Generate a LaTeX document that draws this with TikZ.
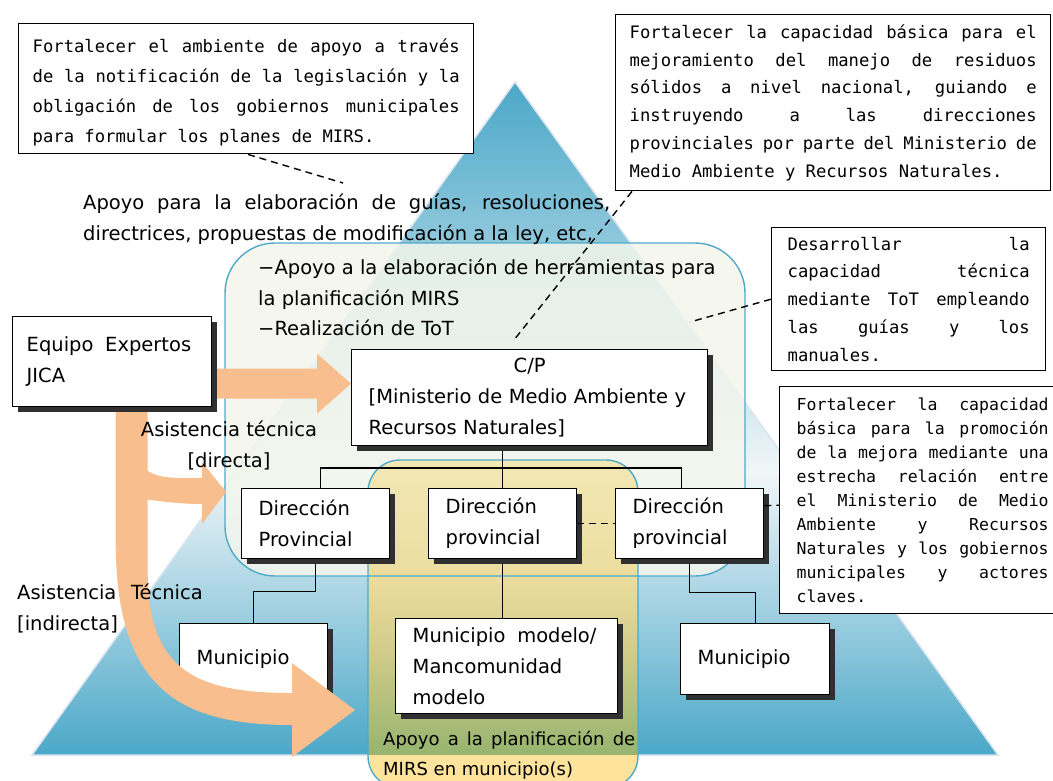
\documentclass[tikz,border=0pt]{standalone}
\usepackage{fontspec}
\setmainfont{DejaVu Sans}
\newfontfamily\monofam{DejaVu Sans Mono}
\usetikzlibrary{calc,shadows}

\definecolor{triblue}{HTML}{4BA8C8}
\definecolor{triwhite}{HTML}{F1F6F8}
\definecolor{triedge}{HTML}{D9E4EF}
\definecolor{tealline}{HTML}{4FAAC9}
\definecolor{greenfill}{HTML}{F3F6EC}
\definecolor{yeltop}{HTML}{F3E8B5}
\definecolor{yelmidA}{HTML}{EBDD9E}
\definecolor{yelmidB}{HTML}{D2CC8A}
\definecolor{yelbot}{HTML}{96B46F}
\definecolor{yelbase}{HTML}{FDE39B}
\definecolor{peach}{HTML}{F9BE8D}
\definecolor{shadowgray}{HTML}{303030}

\pgfdeclareverticalshading{pyramid}{100bp}{color(0bp)=(triblue); color(25bp)=(triblue);
  color(46bp)=(triwhite); color(75bp)=(triblue); color(100bp)=(triblue)}
\pgfdeclareverticalshading{modelzone}{100bp}{color(0bp)=(yelbot); color(25bp)=(yelbot);
  color(42.8bp)=(yelmidB); color(55.3bp)=(yelmidA); color(75bp)=(yeltop); color(100bp)=(yeltop)}

\pgfdeclarelayer{back}
\pgfdeclarelayer{flow}
\pgfsetlayers{back,flow,main}

\newcommand\boxfont{\fontsize{19.5}{31}\selectfont}
\newcommand\labfont{\fontsize{19.5}{30.5}\selectfont}
\newcommand\callfont[2]{\monofam\fontsize{#1}{#2}\selectfont
  \fontdimen3\font=0.45em \fontdimen4\font=0.15em \tolerance=9999\relax}

\tikzset{
  orgbox/.style={draw, line width=1.4pt, fill=white, align=left,
    inner xsep=17pt, inner ysep=0pt, anchor=north west, font=\boxfont,
    drop shadow={shadow xshift=5.5pt, shadow yshift=-5.5pt, fill=shadowgray, opacity=1}},
  callout/.style={draw, line width=1.4pt, fill=white, align=justify,
    inner ysep=0pt, anchor=north west},
  lab/.style={inner sep=0pt, font=\labfont, anchor=north west},
  treeline/.style={line width=1.4pt},
  dashline/.style={line width=1.4pt, dash pattern=on 7pt off 5pt},
  flowarrow/.style={fill=peach},
}

\begin{document}
\begin{tikzpicture}[x=1pt, y=-1pt]
\useasboundingbox (0,0) rectangle (1053,780);

% pyramid and zones
\begin{pgfonlayer}{back}
  \shadedraw[shading=pyramid, draw=triedge, line width=1.5pt] (515,82) -- (998,755) -- (32,755) -- cycle;
  \fill[greenfill, fill opacity=0.85, rounded corners=50pt] (225,243) rectangle (745,576);
  \begin{scope}
    \clip[rounded corners=32pt] (368,460) rectangle (638,788);
    \shade[shading=modelzone] (368,460) rectangle (638,755);
    \fill[yelbase] (368,755) rectangle (638,788);
  \end{scope}
  \draw[tealline, line width=1.4pt, rounded corners=50pt] (225,243) rectangle (745,576);
  \draw[tealline, line width=1.4pt, rounded corners=32pt] (368,460) rectangle (638,788);
  \node[orgbox, text width=114pt, minimum height=70pt] (munA) at (179,623) {Municipio};
\end{pgfonlayer}

% organisation
\node[orgbox, inner xsep=14pt, text width=171pt, minimum height=90pt] (jica) at (12,316)
  {\mbox{Equipo\hspace{0.6em}Expertos}\\ JICA};
\node[orgbox, text width=322pt, minimum height=96pt] (cp) at (351,349)
  {\hfill C/P\hfill\mbox{}\\ {[Ministerio de Medio Ambiente y}\\ Recursos Naturales]};
\node[orgbox, text width=114pt, minimum height=70pt] (dirA) at (241,488) {Dirección\\ Provincial};
\node[orgbox, text width=114pt, minimum height=70pt] (dirB) at (428,488) {Dirección\\ provincial};
\node[orgbox, text width=114pt, minimum height=70pt] (dirC) at (615,488) {Dirección\\ provincial};
\node[orgbox, text width=188pt, minimum height=95pt] (munModel) at (395,618)
  {\mbox{Municipio\hspace{0.6em}modelo/}\\ Mancomunidad\\ modelo};
\node[orgbox, text width=115pt, minimum height=71pt] (munC) at (680,623) {Municipio};

\begin{pgfonlayer}{back}
  \draw[treeline] (cp.south -| dirB.north) -- (dirB.north);
  \draw[treeline] ([xshift=5]dirA.north) -- ++(0,-20) -| ([xshift=-8]dirC.north);
  \draw[treeline] (dirA.south) -- ++(0,32) -| (munA.north);
  \draw[treeline] (dirB.south) -- (dirB.south |- munModel.north);
  \draw[treeline] (dirC.south) -- ++(0,33) -| (munC.north);
\end{pgfonlayer}

% technical assistance arrows
\coordinate (arrowStart) at ([xshift=-10,yshift=-22]jica.east);
\coordinate (arrowEnd) at (arrowStart -| cp.west);
\coordinate (shaftTop) at ([xshift=19.5]jica.south);
\coordinate (dirTip) at (226,492);
\coordinate (indTip) at (355,710);
\begin{pgfonlayer}{flow}
  \fill[flowarrow] ($(arrowStart)+(0,-15)$) -- ($(arrowEnd)+(-34,-15)$) -- ($(arrowEnd)+(-34,-30)$)
    -- (arrowEnd) -- ($(arrowEnd)+(-34,30)$) -- ($(arrowEnd)+(-34,15)$) -- ($(arrowStart)+(0,15)$) -- cycle;
  \fill[flowarrow] ($(shaftTop)+(-16,-10)$) -- ($(shaftTop)+(-16,134)$)
    .. controls +(0,150) and +(-110,0) .. ($(indTip)+(-63,15)$) -- ($(indTip)+(-63,47)$) -- (indTip)
    -- ($(indTip)+(-63,-47)$) -- ($(indTip)+(-63,-17)$)
    .. controls +(-95,0) and +(0,100) .. ($(shaftTop)+(16,164)$) -- ($(shaftTop)+(16,-10)$) -- cycle;
  \fill[flowarrow] ($(shaftTop)+(10,58)$) .. controls +(12,14) and +(-30,0) .. ($(dirTip)+(-24,-14)$)
    -- ($(dirTip)+(-24,-30)$) -- (dirTip) -- ($(dirTip)+(-24,32)$) -- ($(dirTip)+(-24,12)$)
    .. controls +(-30,0) and +(12,0) .. ($(shaftTop)+(10,92)$) -- cycle;
\end{pgfonlayer}

% labels
\node[lab, text width=527pt, align=justify] (leyText) at (83,194)
  {Apoyo para la elaboración de guías, resoluciones,\linebreak directrices, propuestas de modificación a la ley, etc,};
\node[lab, align=left] (herramText) at (258,259)
  {−Apoyo a la elaboración de herramientas para\\ la planificación MIRS\\ −Realización de ToT};
\node[lab, text width=252pt, align=justify, font={\fontsize{18}{30}\selectfont}] (planText) at (383,731)
  {Apoyo a la planificación de\linebreak MIRS en municipio(s)};
\node[lab, anchor=north, align=center] (asisDir) at (229,421) {Asistencia técnica\\ {[directa]}};
\node[lab, align=left] (asisInd) at (17,584) {Asistencia\hspace{0.75em}Técnica\\ {[indirecta]}};

% callouts
\node[callout, inner xsep=14pt, text width=427pt, minimum height=130pt, font={\callfont{17.2}{30}}] (calLey) at (18,23)
  {\strut Fortalecer el ambiente de apoyo a través\linebreak de la notificación de la legislación y la\linebreak
   obligación de los gobiernos municipales\linebreak para formular los planes de MIRS.};
\node[callout, inner xsep=14pt, text width=407pt, minimum height=176pt, font={\callfont{17.2}{27.8}}] (calNac) at (615,14)
  {Fortalecer la capacidad básica para el\linebreak mejoramiento del manejo de residuos\linebreak
   sólidos a nivel nacional, guiando e\linebreak instruyendo a las direcciones\linebreak
   provinciales por parte del Ministerio de\linebreak Medio Ambiente y Recursos Naturales.};
\node[callout, inner xsep=16pt, text width=242pt, minimum height=143pt, font={\callfont{17.2}{27.8}}] (calToT) at (771,227)
  {Desarrollar la\linebreak capacidad técnica\linebreak mediante ToT empleando\linebreak las guías y los\linebreak manuales.};
\node[callout, inner xsep=17pt, text width=252pt, minimum height=227pt, font={\callfont{16.5}{24}}] (calRel) at (779,386)
  {Fortalecer la capacidad\linebreak básica para la promoción\linebreak de la mejora mediante una\linebreak
   estrecha relación entre\linebreak el Ministerio de Medio\linebreak Ambiente y Recursos\linebreak
   Naturales y los gobiernos\linebreak municipales y actores\linebreak claves.};

% dashed links
\coordinate (leyEnd) at (343,183);
\coordinate (totEnd) at (690,322);
\draw[dashline] ([xshift=230]calLey.south west) -- (leyEnd);
\draw[dashline] ([xshift=17]calNac.south west) -- ([xshift=163,yshift=9]cp.north west);
\draw[dashline] (calToT.west) -- (totEnd);
\draw[dashline] (dirB.east) -- (dirC.west);
\draw[dashline] ([yshift=18]dirC.east) -- ([yshift=-5]calRel.west);
\end{tikzpicture}
\end{document}
